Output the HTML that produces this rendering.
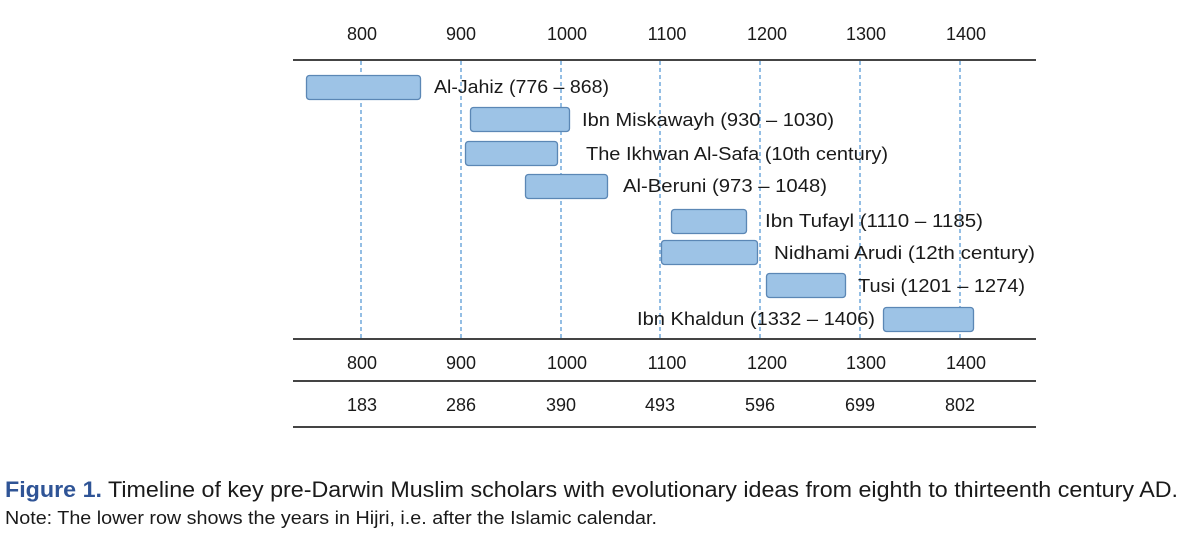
<!DOCTYPE html>
<html><head><meta charset="utf-8"><style>
html,body{margin:0;padding:0;background:#fff;}
svg{display:block;}
text{font-family:"Liberation Sans",sans-serif;fill:#1a1a1a;}
</style></head><body>
<svg width="1190" height="540" viewBox="0 0 1190 540">
<g font-size="18" text-anchor="middle">
<text x="362" y="40">800</text><text x="461" y="40">900</text><text x="567" y="40">1000</text><text x="667" y="40">1100</text><text x="767" y="40">1200</text><text x="866" y="40">1300</text><text x="966" y="40">1400</text>
<text x="362" y="369">800</text><text x="461" y="369">900</text><text x="567" y="369">1000</text><text x="667" y="369">1100</text><text x="767" y="369">1200</text><text x="866" y="369">1300</text><text x="966" y="369">1400</text>
<text x="362" y="411">183</text><text x="461" y="411">286</text><text x="561" y="411">390</text><text x="660" y="411">493</text><text x="760" y="411">596</text><text x="860" y="411">699</text><text x="960" y="411">802</text>
</g>
<g stroke="#5b9bd5" stroke-width="1.3" stroke-dasharray="4,3">
<line x1="361" y1="61" x2="361" y2="339"/><line x1="461" y1="61" x2="461" y2="339"/><line x1="561" y1="61" x2="561" y2="339"/><line x1="660" y1="61" x2="660" y2="339"/><line x1="760" y1="61" x2="760" y2="339"/><line x1="860" y1="61" x2="860" y2="339"/><line x1="960" y1="61" x2="960" y2="339"/>
</g>
<g stroke="#444" stroke-width="2">
<line x1="293" y1="60" x2="1036" y2="60"/><line x1="293" y1="339" x2="1036" y2="339"/><line x1="293" y1="381" x2="1036" y2="381"/><line x1="293" y1="427" x2="1036" y2="427"/>
</g>
<g fill="#9dc3e6" stroke="#5b87b5" stroke-width="1.3">
<rect x="306.5" y="75.5" width="114" height="24" rx="3"/>
<rect x="470.5" y="107.5" width="99" height="24" rx="3"/>
<rect x="465.5" y="141.5" width="92" height="24" rx="3"/>
<rect x="525.5" y="174.5" width="82" height="24" rx="3"/>
<rect x="671.5" y="209.5" width="75" height="24" rx="3"/>
<rect x="661.5" y="240.5" width="96" height="24" rx="3"/>
<rect x="766.5" y="273.5" width="79" height="24" rx="3"/>
<rect x="883.5" y="307.5" width="90" height="24" rx="3"/>
</g>
<g font-size="18">
<text x="434" y="93" textLength="175" lengthAdjust="spacingAndGlyphs">Al-Jahiz (776 – 868)</text>
<text x="582" y="126" textLength="252" lengthAdjust="spacingAndGlyphs">Ibn Miskawayh (930 – 1030)</text>
<text x="586" y="160" textLength="302" lengthAdjust="spacingAndGlyphs">The Ikhwan Al-Safa (10th century)</text>
<text x="623" y="192" textLength="204" lengthAdjust="spacingAndGlyphs">Al-Beruni (973 – 1048)</text>
<text x="765" y="227" textLength="218" lengthAdjust="spacingAndGlyphs">Ibn Tufayl (1110 – 1185)</text>
<text x="774" y="259" textLength="261" lengthAdjust="spacingAndGlyphs">Nidhami Arudi (12th century)</text>
<text x="858" y="292" textLength="167" lengthAdjust="spacingAndGlyphs">Tusi (1201 – 1274)</text>
<text x="637" y="325" textLength="238" lengthAdjust="spacingAndGlyphs">Ibn Khaldun (1332 – 1406)</text>
</g>
<text x="5" y="497" font-size="22" textLength="1173" lengthAdjust="spacingAndGlyphs"><tspan font-weight="bold" style="fill:#2f5496">Figure 1.</tspan> Timeline of key pre-Darwin Muslim scholars with evolutionary ideas from eighth to thirteenth century AD.</text>
<text x="5" y="524" font-size="18" textLength="652" lengthAdjust="spacingAndGlyphs">Note: The lower row shows the years in Hijri, i.e. after the Islamic calendar.</text>
</svg>
</body></html>
